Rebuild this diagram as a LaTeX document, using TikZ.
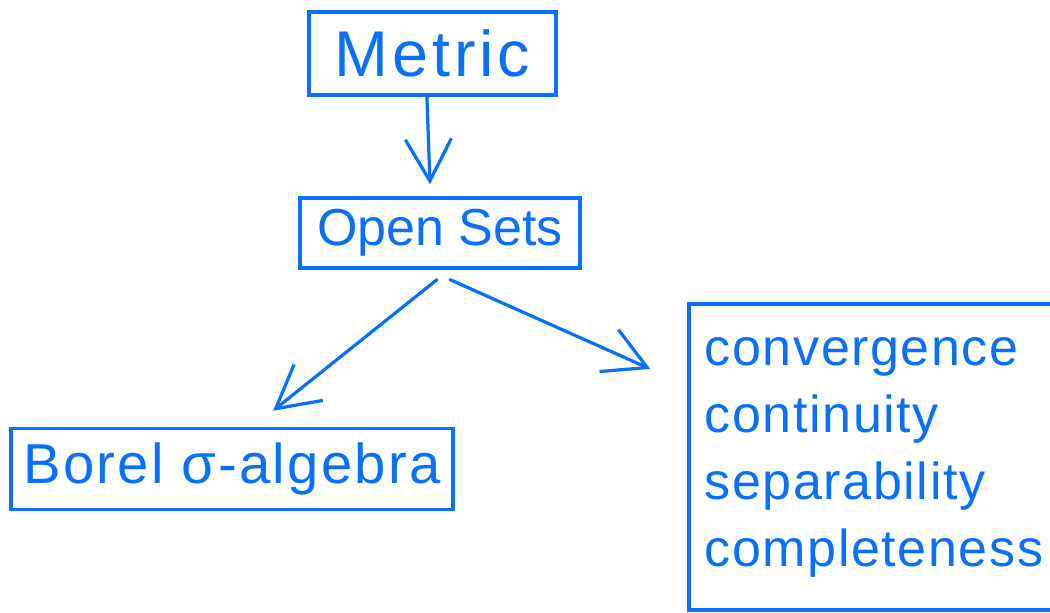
\documentclass[tikz,border=0pt]{standalone}
\usepackage{fontspec}
\setmainfont{Liberation Sans}
\usetikzlibrary{arrows.meta}
\definecolor{ink}{RGB}{10,112,250}
\begin{document}
\begin{tikzpicture}[x=0.025cm, y=-0.025cm,
  box/.style={draw=ink, line width=2.3pt, text=ink, inner sep=0pt},
  arr/.style={draw=ink, line width=2.3pt, line cap=round,
    -{Straight Barb[length=1.05cm, width=1.15cm, line width=2.3pt]}}]
  \useasboundingbox (0,0) rectangle (1050,612);
  \clip (0,0) rectangle (1050,612);
  \fill[white] (0,0) rectangle (1050,612);

  % boxes
  \node[box, minimum width=6.175cm, minimum height=2.075cm,
        font=\fontsize{46}{50}\selectfont\addfontfeature{LetterSpace=6}] (metric) at (432.5,53.5) {Metric};
  \node[box, minimum width=7cm, minimum height=1.75cm,
        font=\fontsize{37}{42}\selectfont] (open) at (440,233) {Open Sets};
  \node[box, minimum width=11.05cm, minimum height=2.03cm,
        font=\fontsize{40}{44}\selectfont\addfontfeature{LetterSpace=4}] (borel) at (232,469) {Borel σ-algebra};
  \node[box, inner xsep=0.4cm, text width=8.425cm, minimum height=7.65cm,
        align=left, font=\fontsize{37}{47.6}\selectfont\addfontfeature{LetterSpace=3}] (props) at (873.5,457)
        {convergence\\continuity\\separability\\completeness};

  % connectors
  \draw[arr] ([xshift=-0.14cm]metric.south) -- ([xshift=-0.25cm, yshift=0.3cm]open.north);
  \draw[arr] ([xshift=-0.075cm, yshift=-0.25cm]open.south) -- ([xshift=1.025cm, yshift=0.4cm]borel.north);
  \draw[arr] ([xshift=0.25cm, yshift=-0.25cm]open.south) -- ([xshift=-0.925cm, yshift=2.2cm]props.west);
\end{tikzpicture}
\end{document}
